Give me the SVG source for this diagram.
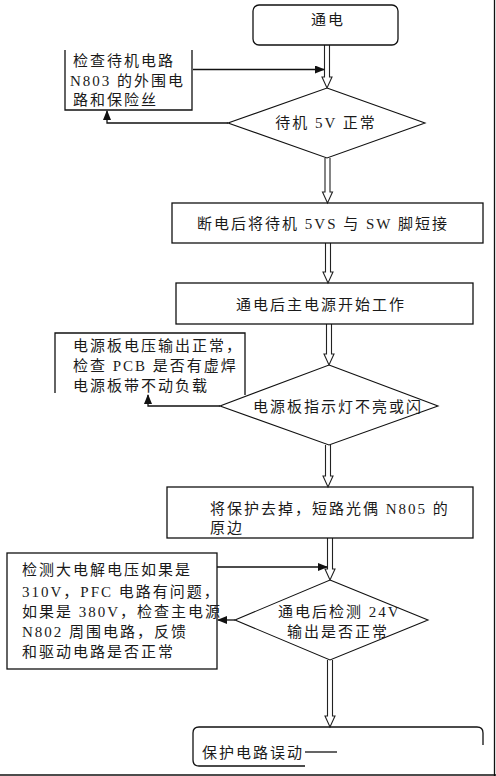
<svg xmlns="http://www.w3.org/2000/svg" width="496" height="776" viewBox="0 0 496 776">
<style>
.bx{fill:none;stroke:#111;stroke-width:1.3}
.dia{fill:#fff;stroke:#111;stroke-width:1.1}
.dbl{fill:#fff;stroke:#222;stroke-width:1.1;stroke-linejoin:miter}
.ln{fill:none;stroke:#111;stroke-width:1.3}
.t{font-family:"Liberation Serif","Noto Sans CJK SC",serif;font-size:15px;letter-spacing:2px;fill:#1a1a1a}
.m{text-anchor:middle}
</style>
<defs>
<marker id="ah" markerWidth="10" markerHeight="8" refX="9" refY="4" orient="auto" markerUnits="userSpaceOnUse">
<path d="M0,0 L10,4 L0,8 Z" fill="#111"/>
</marker>
</defs>
<rect width="496" height="776" fill="#fff"/>
<g id="frame">
<line class="ln" x1="494.5" y1="0" x2="494.5" y2="776" stroke-width="2"/>
<line class="ln" x1="0" y1="775" x2="496" y2="775" stroke-width="2"/>
</g>
<g id="connectors">
<path class="dbl" d="M324.5,45 V77 H322 L327,88 L332,77 H329.5 V45"/>
<path class="dbl" d="M325,158 V192 H322.5 L327.5,203 L332.5,192 H330 V158"/>
<path class="dbl" d="M325.5,243 V272 H323 L328,283 L333,272 H330.5 V243"/>
<path class="dbl" d="M326.5,324 V354 H324 L329,365 L334,354 H331.5 V324"/>
<path class="dbl" d="M325.5,445 V476 H323 L328,487 L333,476 H330.5 V445"/>
<path class="dbl" d="M327.5,538 V569 H325 L330,580 L335,569 H332.5 V538"/>
<path class="dbl" d="M327.5,660 V716 H325 L330,727 L335,716 H332.5 V660"/>
<path class="ln" d="M193,69.5 H324" marker-end="url(#ah)"/>
<path class="ln" d="M228,123 H107 V111" marker-end="url(#ah)"/>
<path class="ln" d="M220,406 H148 V395" marker-end="url(#ah)"/>
<path class="ln" d="M217,567 H327" marker-end="url(#ah)"/>
<path class="ln" d="M235,620 H218" marker-end="url(#ah)"/>
<path class="ln" d="M305,752 H337"/>
</g>
<g id="n-start">
<rect class="bx" x="253" y="5" width="145" height="40" rx="6"/>
<text class="t m" x="328" y="25">通电</text>
</g>
<g id="n-check1">
<path class="bx" d="M65,50 V110 H192 V50"/>
<text class="t" x="73" y="66">检查待机电路</text>
<text class="t" x="70" y="86">N803 的外围电</text>
<text class="t" x="73" y="105">路和保险丝</text>
</g>
<g id="n-d1">
<path class="dia" d="M327,88 L425,123 L327,158 L228,123 Z"/>
<text class="t m" x="326" y="128">待机 5V 正常</text>
</g>
<g id="n-short">
<rect class="bx" x="172" y="203" width="311" height="40"/>
<text class="t m" x="323" y="229">断电后将待机 5VS 与 SW 脚短接</text>
</g>
<g id="n-main">
<rect class="bx" x="176" y="283" width="297" height="41"/>
<text class="t m" x="321" y="310">通电后主电源开始工作</text>
</g>
<g id="n-check2">
<path class="bx" d="M55,393 V333 H245 V395"/>
<text class="t" x="73" y="351">电源板电压输出正常，</text>
<text class="t" x="73" y="371">检查 PCB 是否有虚焊</text>
<text class="t" x="73" y="391">电源板带不动负载</text>
</g>
<g id="n-d2">
<path class="dia" d="M329,365 L438,406 L329,445 L220,406 Z"/>
<text class="t" x="253" y="412">电源板指示灯不亮或闪</text>
</g>
<g id="n-prot">
<rect class="bx" x="167" y="487" width="306" height="51"/>
<text class="t" x="210" y="514">将保护去掉，短路光偶 N805 的</text>
<text class="t" x="210" y="533">原边</text>
</g>
<g id="n-check3">
<rect class="bx" x="7" y="553" width="210" height="116"/>
<text class="t" x="22" y="575">检测大电解电压如果是</text>
<text class="t" x="22" y="597">310V，PFC 电路有问题，</text>
<text class="t" x="22" y="617">如果是 380V，检查主电源</text>
<text class="t" x="22" y="637">N802 周围电路，反馈</text>
<text class="t" x="22" y="657">和驱动电路是否正常</text>
</g>
<g id="n-d3">
<path class="dia" d="M330,580 L428,620 L330,660 L235,620 Z"/>
<text class="t" x="278" y="617">通电后检测 24V</text>
<text class="t" x="287" y="637">输出是否正常</text>
</g>
<g id="n-end">
<path class="bx" d="M305,766 H199 Q193,766 193,760 V733 Q193,727 199,727 H477 Q483,727 483,733 V745"/>
<text class="t" x="202" y="758">保护电路误动</text>
</g>
</svg>
